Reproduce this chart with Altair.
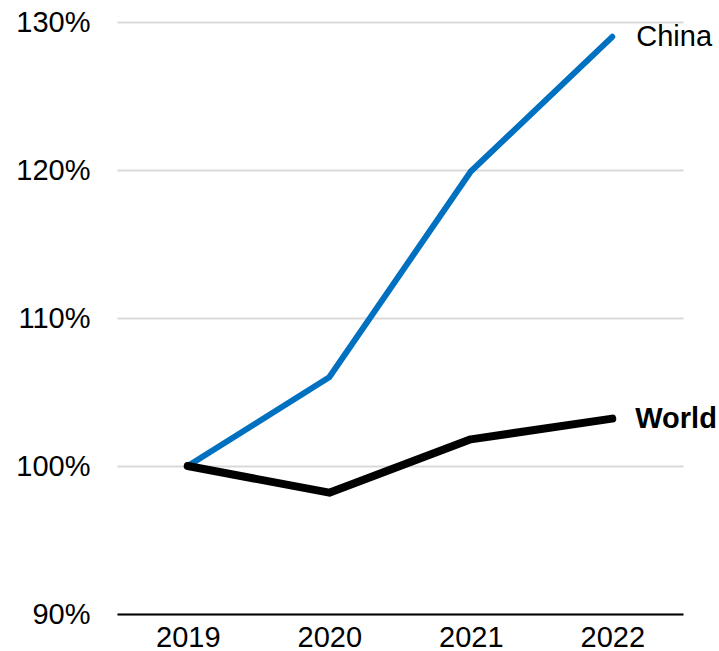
import altair as alt
import pandas as pd

years = ["2019", "2020", "2021", "2022"]
china = [100.0, 106.0, 119.9, 129.0]
world = [100.0, 98.2, 101.8, 103.2]

rows = []
for y, v in zip(years, china):
    rows.append({"year": y, "value": v, "series": "China"})
for y, v in zip(years, world):
    rows.append({"year": y, "value": v, "series": "World"})
df = pd.DataFrame(rows)

FONT = "Liberation Sans"
FS = 29

xscale = alt.Scale(type="point", padding=0.5, domain=years)
x = alt.X("year:O", scale=xscale,
          axis=alt.Axis(title=None, labelAngle=0, labelFontSize=FS, labelFont=FONT,
                        labelColor="black", ticks=False, domain=True, domainColor="black",
                        domainWidth=2, labelPadding=9, grid=False))
y = alt.Y("value:Q", scale=alt.Scale(domain=[90, 130], nice=False, zero=False),
          axis=alt.Axis(title=None, values=[90, 100, 110, 120, 130],
                        labelExpr="datum.value + '%'", labelFontSize=FS, labelFont=FONT,
                        labelColor="black", ticks=False, domain=False, grid=True,
                        gridColor="#D9D9D9", gridWidth=2, labelPadding=27))

color = alt.Color("series:N", scale=alt.Scale(domain=["China", "World"], range=["#0070C0", "#000000"]),
                  legend=None)

lines = alt.Chart(df).mark_line(strokeCap="round", strokeJoin="round").encode(
    x=x, y=y, color=color,
    strokeWidth=alt.StrokeWidth("series:N", scale=alt.Scale(domain=["China", "World"], range=[6, 8]), legend=None),
    detail="series:N"
)

last = df[df["year"] == "2022"]
china_lbl = alt.Chart(last[last["series"] == "China"]).mark_text(
    align="left", baseline="middle", dx=24, fontSize=FS, font=FONT, color="black"
).encode(x=alt.X("year:O", scale=xscale), y=alt.Y("value:Q"), text="series:N")
world_lbl = alt.Chart(last[last["series"] == "World"]).mark_text(
    align="left", baseline="middle", dx=23, fontSize=FS, font=FONT, fontWeight="bold", color="black"
).encode(x=alt.X("year:O", scale=xscale), y=alt.Y("value:Q"), text="series:N")

chart = alt.layer(lines, china_lbl, world_lbl).properties(
    width=566, height=592,
    autosize=alt.AutoSizeParams(type="none"),
    padding={"left": 117, "top": 22, "right": 36, "bottom": 37},
).configure(background="white").configure_view(stroke=None)

chart.save("out.html", embed_options={"renderer": "svg", "actions": False})
